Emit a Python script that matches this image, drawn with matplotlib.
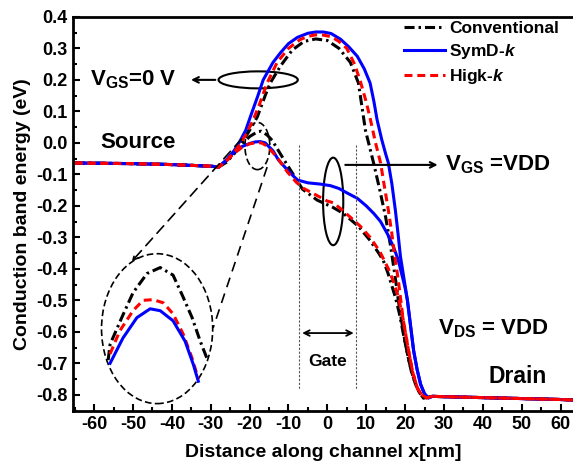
import numpy as np
import matplotlib
matplotlib.use("Agg")
import matplotlib.pyplot as plt
from matplotlib.patches import Ellipse
from matplotlib.ticker import MultipleLocator, FormatStrFormatter

plt.rcParams['font.family'] = 'Liberation Sans'
plt.rcParams['font.weight'] = 'bold'
plt.rcParams['axes.unicode_minus'] = False
plt.rcParams['mathtext.fontset'] = 'custom'
plt.rcParams['mathtext.rm'] = 'Liberation Sans:bold'
plt.rcParams['mathtext.bf'] = 'Liberation Sans:bold'
plt.rcParams['mathtext.it'] = 'Liberation Sans:bold:italic'

# common source / drain regions
src_x = [-65, -50, -40, -30, -28]
src_y = [-0.064, -0.066, -0.069, -0.074, -0.077]
drain_x = [27, 30, 40, 50, 60, 64]
drain_y = [-0.805, -0.806, -0.809, -0.812, -0.815, -0.817]

# SymD-k  (upper: VGS=0 V, lower: VGS=VDD)
blue_up_x = [-26, -24, -22.5, -21, -19.8, -18, -16.5, -14, -12, -10, -7.7, -5, -3, -1, 1, 3.4, 5.5, 7.7,
             9.5, 11, 12, 12.8, 14, 15, 15.7, 16.6, 17.5, 18.2, 18.8, 19.7, 20.6, 21.4, 22.2, 23.1, 24,
             25, 26]
blue_up_y = [-0.055, -0.025, 0.005, 0.04, 0.083, 0.145, 0.2, 0.255, 0.287, 0.315, 0.335, 0.348, 0.352, 0.352,
             0.347, 0.329, 0.305, 0.275, 0.235, 0.19, 0.13, 0.073, 0.01, -0.035, -0.064, -0.13, -0.214,
             -0.29, -0.36, -0.43, -0.5, -0.58, -0.66, -0.72, -0.767, -0.797, -0.81]
blue_lo_x = [-26, -24, -22, -20, -18.5, -17.3, -16, -14, -12.6, -10, -7.7, -5, -1.8, 0.8, 3, 5.2, 7.7, 10,
             12, 13.7, 15.5, 17, 18.2, 19.2, 20, 20.6, 21.4, 22.2, 23.1, 24, 25, 26]
blue_lo_y = [-0.055, -0.03, -0.012, -0.002, 0.003, 0.004, 0.0, -0.025, -0.054, -0.09, -0.118, -0.127, -0.131,
             -0.136, -0.145, -0.16, -0.176, -0.2, -0.225, -0.25, -0.29, -0.33, -0.37, -0.42, -0.46, -0.5,
             -0.58, -0.66, -0.72, -0.767, -0.797, -0.81]

# Higk-k
red_up_x = [-26, -24, -22.5, -21, -19, -17.3, -15.5, -12.9, -10, -7, -5, -3, -1, 1, 3, 5, 7, 8.5, 10, 11.1,
            12.4, 13.7, 14.7, 15.7, 16.5, 17.2, 18.3, 19.5, 20.9, 22, 23.2, 24.3, 25.5]
red_up_y = [-0.058, -0.03, -0.005, 0.025, 0.075, 0.128, 0.19, 0.256, 0.3, 0.328, 0.338, 0.343, 0.342, 0.337,
            0.322, 0.3, 0.25, 0.195, 0.13, 0.073, 0.0, -0.064, -0.14, -0.214, -0.28, -0.345, -0.44, -0.56,
            -0.66, -0.73, -0.78, -0.8, -0.81]
red_lo_x = [-26, -24, -22, -20, -18.5, -17, -15.5, -13, -10.3, -8, -6.2, -3, 0, 1.5, 4, 5.9, 8.5, 11, 13.5,
            15.7, 17, 18.3, 19.5, 20.9, 22, 23.2, 24.3, 25.5]
red_lo_y = [-0.058, -0.033, -0.015, -0.003, 0.0, 0.0, -0.01, -0.045, -0.092, -0.125, -0.144, -0.165, -0.185,
            -0.19, -0.215, -0.236, -0.265, -0.3, -0.345, -0.4, -0.44, -0.49, -0.56, -0.66, -0.73, -0.78,
            -0.8, -0.81]

# Conventional
blk_up_x = [-26, -24, -22, -20, -18, -16, -14.7, -12, -9, -6, -3, 0, 3, 5.9, 8, 9.8, 11.9, 13.5, 15, 16.3,
            17.5, 18.5, 20.1, 21.5, 22.7, 23.8, 24.7]
blk_up_y = [-0.062, -0.035, 0.0, 0.04, 0.083, 0.15, 0.19, 0.245, 0.295, 0.322, 0.33, 0.325, 0.3, 0.256,
            0.19, 0.04, -0.064, -0.15, -0.236, -0.33, -0.43, -0.52, -0.64, -0.72, -0.767, -0.795, -0.81]
blk_lo_x = [-26, -24, -22, -20, -18, -17, -15.5, -14.2, -11.3, -9.5, -6.4, -2.6, 1.3, 4.1, 8, 11, 13.2,
            14.4, 15.5, 16.5, 17.5, 18.5, 20.1, 21.5, 22.7, 23.8, 24.7]
blk_lo_y = [-0.058, -0.032, -0.005, 0.02, 0.035, 0.037, 0.025, 0.008, -0.051, -0.086, -0.147, -0.182,
            -0.204, -0.224, -0.265, -0.31, -0.35, -0.374, -0.41, -0.45, -0.49, -0.54, -0.64, -0.72, -0.767,
            -0.795, -0.81]

# magnified inset (schematic zoom of the barrier peak)
ins_blk_x = [-56.4, -55.9, -52.9, -50, -46.4, -43, -39.7, -37.1, -34.8, -32.7, -30.7]
ins_blk_y = [-0.69, -0.64, -0.555, -0.476, -0.415, -0.396, -0.42, -0.49, -0.555, -0.63, -0.693]
ins_red_x = [-55.9, -53.4, -50, -47.4, -44.8, -42.2, -39.7, -37.1, -34.8, -33.2]
ins_red_y = [-0.67, -0.597, -0.533, -0.5, -0.498, -0.508, -0.543, -0.607, -0.684, -0.75]
ins_blue_x = [-55.9, -52.6, -49, -45.6, -43, -39.7, -36.6, -34.5, -33.2]
ins_blue_y = [-0.7, -0.62, -0.555, -0.527, -0.533, -0.565, -0.63, -0.703, -0.757]

gate_left, gate_right = -7.2, 7.5

fig = plt.figure(figsize=(5.73, 4.69), dpi=100)
ax = fig.add_axes([0.127, 0.124, 0.875, 0.840])

lw = 2.2
kw_blk = dict(color='black', lw=lw, dashes=(3.3, 1.3, 0.8, 1.3))
kw_blue = dict(color='#0000ff', lw=lw)
kw_red = dict(color='#ff0000', lw=lw, dashes=(2.6, 1.6))


def full(mx, my):
    return src_x + mx + drain_x, src_y + my + drain_y


ax.plot(*full(blk_up_x, blk_up_y), label='Conventional', **kw_blk)
ax.plot(*full(blk_lo_x, blk_lo_y), **kw_blk)
ax.plot(*full(blue_up_x, blue_up_y), label=r'SymD-$\mathit{k}$', **kw_blue)
ax.plot(*full(blue_lo_x, blue_lo_y), **kw_blue)
ax.plot(*full(red_up_x, red_up_y), label=r'Higk-$\mathit{k}$', **kw_red)
ax.plot(*full(red_lo_x, red_lo_y), **kw_red)

ax.plot(ins_blk_x, ins_blk_y, **kw_blk)
ax.plot(ins_red_x, ins_red_y, **kw_red)
ax.plot(ins_blue_x, ins_blue_y, **kw_blue)

# gate region
for gx in (gate_left, gate_right):
    ax.plot([gx, gx], [-0.006, -0.783], color='#555555', lw=0.8, ls=(0, (2, 1.5)))
ax.annotate('', xy=(gate_left, -0.604), xytext=(gate_right, -0.604),
            arrowprops=dict(arrowstyle='<->', color='black', lw=1.3))
ax.text(0.2, -0.693, 'Gate', ha='center', va='center', fontsize=12.5, fontweight='bold')

# ellipses and annotations
ax.add_patch(Ellipse((-17.8, 0.2), 20.4, 0.054, fill=False, ec='black', lw=1.5))
ax.annotate('', xy=(-35.8, 0.2), xytext=(-28.1, 0.2),
            arrowprops=dict(arrowstyle='->', color='black', lw=1.5))
ax.text(-61, 0.2, r'V$_{\mathrm{GS}}$=0 V', ha='left', va='center', fontsize=16)

ax.add_patch(Ellipse((1.5, -0.186), 5.2, 0.278, fill=False, ec='black', lw=1.5))
ax.annotate('', xy=(29.1, -0.07), xytext=(3.9, -0.07),
            arrowprops=dict(arrowstyle='->', color='black', lw=1.5))
ax.text(30.4, -0.07, r'V$_{\mathrm{GS}}$ =VDD', ha='left', va='center', fontsize=16)

ax.add_patch(Ellipse((-18, -0.01), 6.4, 0.15, fill=False, ec='black', lw=1.2, ls=(0, (4, 2))))
ax.add_patch(Ellipse((-43.8, -0.59), 28.6, 0.476, fill=False, ec='black', lw=1.2, ls=(0, (4, 2))))
ax.annotate('', xy=(-50.8, -0.383), xytext=(-21.6, 0.019),
            arrowprops=dict(arrowstyle='->', color='black', lw=1.2, ls=(0, (6, 4))))
ax.plot([-15.5, -29.4], [-0.077, -0.588], color='black', lw=1.2, ls=(0, (6, 4)))

ax.text(-58.5, 0.0, 'Source', ha='left', va='center', fontsize=16)
ax.text(41.5, -0.741, 'Drain', ha='left', va='center', fontsize=16.5)
ax.text(28.4, -0.59, r'V$_{\mathrm{DS}}$ = VDD', ha='left', va='center', fontsize=16)

ax.set_xlim(-65.5, 63.5)
ax.set_ylim(-0.851, 0.4)
ax.xaxis.set_major_locator(MultipleLocator(10))
ax.xaxis.set_minor_locator(MultipleLocator(5))
ax.yaxis.set_major_locator(MultipleLocator(0.1))
ax.yaxis.set_minor_locator(MultipleLocator(0.05))
ax.yaxis.set_major_formatter(FormatStrFormatter('%.1f'))
ax.tick_params(which='both', direction='in', width=1.5, labelsize=13)
ax.tick_params(which='major', length=5)
ax.tick_params(which='minor', length=3)
for s in ax.spines.values():
    s.set_linewidth(2)

ax.set_xlabel('Distance along channel x[nm]', fontsize=14, fontweight='bold', labelpad=8)
ax.set_ylabel('Conduction band energy (eV)', fontsize=14, fontweight='bold', labelpad=4)

ax.legend(loc='upper left', bbox_to_anchor=(0.66, 0.99), frameon=False, fontsize=12.5,
          handlelength=2.4, handletextpad=0.2, labelspacing=0.35, borderpad=0, borderaxespad=0)

fig.savefig('out.png', dpi=100)
